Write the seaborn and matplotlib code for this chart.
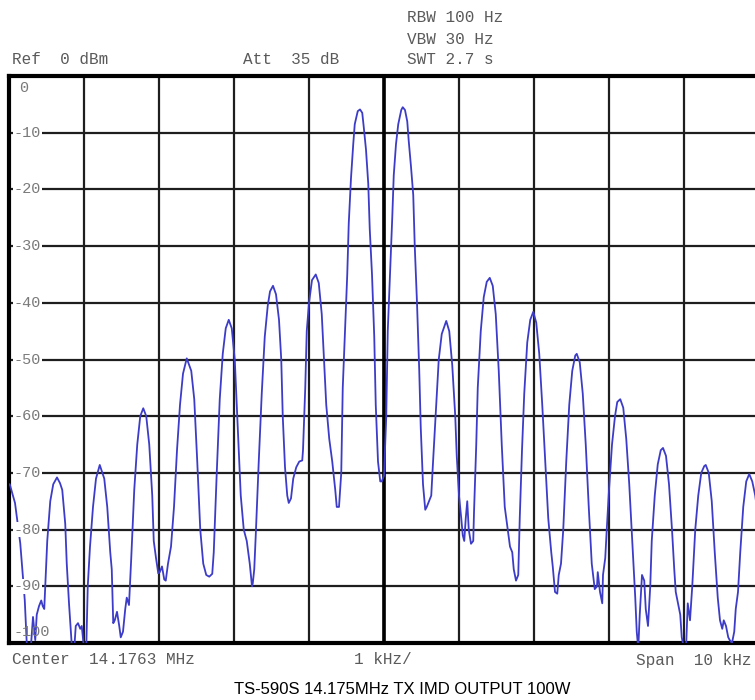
import numpy as np
import pandas as pd
import matplotlib
matplotlib.use("Agg")
import matplotlib.pyplot as plt
import seaborn as sns

# Traza del analizador (offset de frecuencia en kHz respecto al centro, nivel en dBm)
freq_khz = [
    -5.00, -4.99, -4.92, -4.85, -4.79, -4.76, -4.71, -4.68, -4.65, -4.63,
    -4.60, -4.57, -4.55, -4.53, -4.49, -4.45, -4.41, -4.36, -4.32, -4.29,
    -4.25, -4.23, -4.20, -4.17, -4.16, -4.13, -4.11, -4.08, -4.05, -4.03,
    -4.00, -3.97, -3.95, -3.92, -3.88, -3.84, -3.79, -3.73, -3.69, -3.65,
    -3.63, -3.61, -3.59, -3.56, -3.53, -3.51, -3.48, -3.45, -3.43, -3.40,
    -3.37, -3.33, -3.29, -3.25, -3.21, -3.17, -3.13, -3.09, -3.07, -3.04,
    -3.01, -2.99, -2.96, -2.93, -2.91, -2.88, -2.84, -2.80, -2.76, -2.72,
    -2.68, -2.63, -2.57, -2.53, -2.49, -2.45, -2.41, -2.37, -2.33, -2.29,
    -2.27, -2.23, -2.19, -2.15, -2.11, -2.07, -2.03, -1.99, -1.95, -1.91,
    -1.87, -1.83, -1.79, -1.76, -1.75, -1.73, -1.71, -1.67, -1.63, -1.59,
    -1.55, -1.52, -1.48, -1.44, -1.40, -1.37, -1.35, -1.32, -1.29, -1.27,
    -1.24, -1.21, -1.17, -1.13, -1.09, -1.08, -1.05, -1.03, -1.00, -0.96,
    -0.91, -0.87, -0.83, -0.80, -0.77, -0.73, -0.69, -0.65, -0.63, -0.60,
    -0.57, -0.55, -0.52, -0.49, -0.47, -0.44, -0.41, -0.39, -0.35, -0.32,
    -0.29, -0.27, -0.24, -0.21, -0.19, -0.16, -0.13, -0.11, -0.08, -0.05,
    -0.03, 0.00, 0.03, 0.05, 0.08, 0.11, 0.13, 0.16, 0.19, 0.23,
    0.25, 0.28, 0.31, 0.33, 0.36, 0.39, 0.41, 0.44, 0.47, 0.49,
    0.52, 0.55, 0.57, 0.60, 0.63, 0.65, 0.68, 0.71, 0.73, 0.77,
    0.83, 0.87, 0.91, 0.95, 0.97, 1.00, 1.03, 1.05, 1.07, 1.09,
    1.11, 1.13, 1.16, 1.19, 1.20, 1.23, 1.25, 1.29, 1.33, 1.37,
    1.41, 1.45, 1.49, 1.53, 1.57, 1.61, 1.65, 1.68, 1.71, 1.73,
    1.76, 1.79, 1.81, 1.84, 1.87, 1.91, 1.95, 1.99, 2.03, 2.07,
    2.11, 2.15, 2.19, 2.23, 2.25, 2.28, 2.31, 2.33, 2.36, 2.39,
    2.43, 2.47, 2.51, 2.55, 2.57, 2.61, 2.65, 2.69, 2.73, 2.77,
    2.81, 2.84, 2.85, 2.88, 2.91, 2.92, 2.95, 2.97, 3.00, 3.04,
    3.08, 3.11, 3.15, 3.19, 3.23, 3.27, 3.31, 3.35, 3.37, 3.39,
    3.41, 3.44, 3.47, 3.49, 3.52, 3.55, 3.57, 3.61, 3.65, 3.69,
    3.72, 3.76, 3.80, 3.84, 3.87, 3.89, 3.92, 3.95, 3.97, 4.00,
    4.03, 4.05, 4.08, 4.11, 4.15, 4.19, 4.23, 4.27, 4.29, 4.33,
    4.37, 4.41, 4.45, 4.48, 4.51, 4.53, 4.56, 4.59, 4.61, 4.64,
    4.67, 4.69, 4.72, 4.75, 4.79, 4.83, 4.87, 4.91, 4.95, 4.99,
]
level_dbm = [
    -72, -72, -75.3, -82.4, -92.4, -101, -101, -95.4, -99.5, -95,
    -93.5, -92.5, -93.5, -94, -82, -75, -72, -70.8, -71.8, -73,
    -79, -86, -93, -99, -101, -101, -97, -96.5, -97.5, -97,
    -101, -101, -90, -83, -76, -71, -68.6, -71, -76, -84,
    -87, -96.5, -96, -94.5, -97, -99, -98, -94, -92, -93.3,
    -85, -73, -65, -60, -58.6, -60, -65, -74, -82, -85,
    -87.7, -87.5, -86.5, -88.8, -89, -86, -83, -76, -66, -58,
    -52.5, -49.8, -52, -57, -68, -80, -86, -88, -88.3, -87.8,
    -84, -70, -57, -49, -44.5, -43, -44.5, -50, -62, -74,
    -80, -82, -86, -90, -89.5, -87, -81, -68, -56, -46,
    -40.5, -38, -37, -38.5, -43, -50, -60, -69, -74, -75.3,
    -74.5, -71, -69, -68, -67.8, -66, -55, -45, -40, -36,
    -35, -36.5, -42, -50, -58, -64, -68, -73, -76, -76,
    -70, -55, -45, -35, -26, -18, -12, -8.5, -6.2, -5.9,
    -6.5, -9, -13, -19, -27, -35, -46, -58, -68, -71.5,
    -71.5, -70.5, -60, -45, -35, -25, -17.5, -12, -8.5, -6,
    -5.5, -6, -8, -11.5, -16, -21, -30, -40, -52, -62,
    -72, -76.5, -76, -75, -74, -69, -62, -55, -50, -45.5,
    -43.2, -45, -51, -60, -67, -74, -78, -81, -82, -78,
    -75, -80, -82.5, -82, -77, -65, -55, -45, -39, -36.3,
    -35.6, -37, -42, -52, -65, -76, -80, -83, -84, -87,
    -89, -88, -78, -66, -56, -47, -43, -41.6, -43.5, -49,
    -58, -68, -78, -84, -86.5, -91, -91.3, -88, -86, -80,
    -68, -58, -52, -49.3, -49, -50.5, -56, -65, -76, -86,
    -90.5, -90, -87.5, -91, -93, -88, -85, -80, -73, -65,
    -60, -57.5, -57, -58.5, -64, -72, -82, -92, -98, -101,
    -95, -88, -89, -94, -97, -90, -82, -74, -68.5, -66,
    -65.6, -67, -72, -80, -87, -91, -93, -95, -99, -101,
    -100, -93, -96, -90, -80, -74, -70, -68.8, -68.6, -70,
    -75, -84, -92, -96, -97.5, -96, -97, -99, -99.5, -100,
    -98, -94, -91, -84, -76, -71.5, -70.2, -71.5, -74, -78,
]

# Rejilla y etiquetas
x_ticks_khz = [-5, -4, -3, -2, -1, 0, 1, 2, 3, 4, 5]
y_ticks_db = [0, -10, -20, -30, -40, -50, -60, -70, -80, -90, -100]
y_labels = ["0", "-10", "-20", "-30", "-40", "-50", "-60", "-70", "-80", "-90", "-100"]

header_left = ["Ref  0 dBm", "Att  35 dB"]
header_right = ["RBW 100 Hz", "VBW 30 Hz", "SWT 2.7 s"]
footer = ["Center  14.1763 MHz", "1 kHz/", "Span  10 kHz"]
title = "TS-590S 14.175MHz TX IMD OUTPUT 100W"

df = pd.DataFrame({"freq_khz": freq_khz, "level_dbm": level_dbm})

sns.set_style("white")
plt.rcParams["font.family"] = ["Liberation Mono", "DejaVu Sans Mono"]

W, H = 755, 700
fig = plt.figure(figsize=(W / 100, H / 100), dpi=100)
fig.patch.set_facecolor("white")


def fpos(x, y):
    # pixel -> fracción de figura
    return x / W, 1 - y / H


ax = fig.add_axes([9 / W, 57 / H, 750 / W, 567 / H])
sns.lineplot(data=df, x="freq_khz", y="level_dbm", ax=ax, color="#3c3cc8",
             linewidth=1.3, sort=False, estimator=None, zorder=3)

ax.set_xlim(-5, 5)
ax.set_ylim(-100, 0)
ax.set_xticks(x_ticks_khz)
ax.set_yticks(y_ticks_db)
ax.tick_params(length=0, labelbottom=False, labelleft=False)
ax.grid(True, color="#1e1e1e", linewidth=1.6)
ax.set_axisbelow(True)
ax.axvline(0, color="black", linewidth=2.6, zorder=2)
ax.set_xlabel("")
ax.set_ylabel("")
for s in ax.spines.values():
    s.set_linewidth(3)
    s.set_color("black")

# etiquetas del eje Y dentro del recuadro
gray = "#7a7a7a"
for v, lab in zip(y_ticks_db, y_labels):
    yy = v
    if v == 0:
        yy = -2.2
    elif v == -100:
        yy = -98.0
    t = ax.text(0.006 if lab != "0" else 0.013, yy, lab, transform=ax.get_yaxis_transform(),
                ha="left", va="center", fontsize=11, color=gray, zorder=4)
    if v not in (0, -100):
        t.set_bbox(dict(facecolor="white", edgecolor="none", pad=0.5))

txt_color = "#5a5a5a"
fig.text(*fpos(12, 60), header_left[0], ha="left", va="center", fontsize=11.5, color=txt_color)
fig.text(*fpos(243, 60), header_left[1], ha="left", va="center", fontsize=11.5, color=txt_color)
for i, s in enumerate(header_right):
    fig.text(*fpos(407, 18 + 21 * i), s, ha="left", va="center", fontsize=11.5, color=txt_color)

fig.text(*fpos(12, 660), footer[0], ha="left", va="center", fontsize=11.5, color=txt_color)
fig.text(*fpos(383, 660), footer[1], ha="center", va="center", fontsize=11.5, color=txt_color)
fig.text(*fpos(752, 660), footer[2], ha="right", va="center", fontsize=11.5, color=txt_color)

fig.text(*fpos(402, 690), title, ha="center", va="center", fontsize=12,
         color="black", family=["Liberation Sans", "DejaVu Sans"])

fig.savefig("out.png", dpi=100)
